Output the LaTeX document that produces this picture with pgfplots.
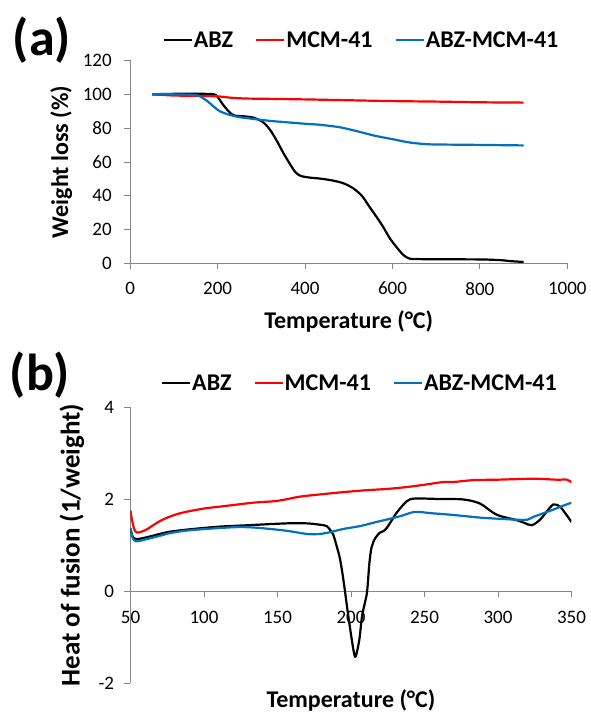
\documentclass[border=0pt]{standalone}
\usepackage{fontspec}
\setmainfont{Carlito}
\usepackage{pgfplots}
\pgfplotsset{compat=1.18}
\definecolor{exblue}{HTML}{0070C0}
\definecolor{exred}{HTML}{FF0000}
\definecolor{axgray}{HTML}{868686}

% excel-like look shared by both panels
\pgfplotsset{excel/.style={
  scale only axis,
  axis line style={axgray, line width=0.9pt, -},
  tick style={axgray, line width=0.9pt},
  major tick length=6pt,
  tick align=outside,
  tick label style={font=\fontsize{19}{19}\selectfont, black},
  /pgf/number format/assume math mode=true,
  /pgf/number format/1000 sep={},
  label style={font=\bfseries\fontsize{24}{24}\selectfont},
  legend style={draw=none, fill=none, font=\bfseries\fontsize{24}{24}\selectfont,
    legend columns=3, nodes={inner sep=1pt},
    /tikz/every even column/.append style={column sep=21pt}},
  legend image code/.code={\draw[##1] (0pt,0pt) -- (28pt,0pt);},
  legend cell align=left,
  every axis plot/.append style={line width=2.2pt, smooth, no marks},
}}

\begin{document}
\begin{tikzpicture}
\path[use as bounding box] (0,0) rectangle (591pt,713pt);

% ---- (a) TGA ----
\node[font=\bfseries\fontsize{52}{52}\selectfont] at (42pt,673pt) {(a)};
\begin{axis}[excel,
  at={(130.2pt,449.5pt)}, anchor=south west,
  width=437.1pt, height=203pt,
  xmin=0, xmax=1000, ymin=0, ymax=120,
  xtick={0,200,...,1000}, ytick={0,20,...,120},
  axis x line*=bottom, axis y line*=left,
  xticklabel style={yshift=-9pt}, yticklabel style={xshift=-9pt},
  xlabel={Temperature (°C)}, ylabel={Weight loss (\%)},
  xlabel style={at={(rel axis cs:0.5,-0.288)}, anchor=center},
  ylabel style={at={(rel axis cs:-0.158,0.5)}, anchor=center},
  legend style={at={(rel axis cs:0.528,1.1)}, anchor=center},
]
\addplot[black] coordinates {
 (50,100) (100,100.3) (150,100.3) (190,100.1) (200,98.5) (215,93) (235,87.8)
 (260,87) (281,86.3) (304,83.5) (320,79) (335,72.7) (350,65.5) (365,59)
 (378,54) (390,51.8) (410,50.8) (434,50.2) (460,49.2) (487,47.5) (510,44.5)
 (530,40) (548,33.3) (565,27) (579,21.5) (595,14.5) (609,9.8) (625,5)
 (640,2.8) (660,2.6) (700,2.5) (800,2.4) (846,2) (870,1.4) (900,0.9)};
\addlegendentry{ABZ}
\addplot[exred] coordinates {
 (50,100) (100,99.3) (150,99.1) (200,98.8) (230,98) (265,97.5) (300,97.4)
 (400,97) (500,96.5) (600,96) (700,95.7) (800,95.3) (900,95.1)};
\addlegendentry{MCM-41}
\addplot[exblue] coordinates {
 (50,100) (100,100) (150,99.5) (165,98) (175,96.3) (190,93) (205,90)
 (228,87.8) (250,86.5) (281,85.5) (320,84.3) (357,83.5) (400,82.6) (434,82)
 (480,80.5) (525,77.8) (560,75.5) (600,73.5) (640,71.5) (680,70.5)
 (720,70.3) (800,70.1) (900,69.8)};
\addlegendentry{ABZ-MCM-41}
\end{axis}

% ---- (b) DSC ----
\node[font=\bfseries\fontsize{52}{52}\selectfont] at (40pt,338pt) {(b)};
\begin{axis}[excel,
  at={(130.5pt,30pt)}, anchor=south west,
  width=441pt, height=276pt,
  xmin=50, xmax=350, ymin=-2, ymax=4,
  xtick={50,100,...,350}, ytick={-2,0,2,4},
  axis x line*=middle, axis y line*=left,
  hide obscured x ticks=false,
  xticklabel style={yshift=-11pt}, yticklabel style={xshift=-7pt},
  xlabel={Temperature (°C)}, ylabel={Heat of fusion (1/weight)},
  xlabel style={at={(rel axis cs:0.5,-0.062)}, anchor=center},
  ylabel style={at={(rel axis cs:-0.133,0.5)}, anchor=center,
    font=\bfseries\fontsize{27}{27}\selectfont},
  legend style={at={(rel axis cs:0.519,1.087)}, anchor=center},
]
\addplot[black] coordinates {
 (50,1.35) (51.5,1.18) (54,1.13) (60,1.16) (70,1.24) (77,1.29) (90,1.34)
 (111,1.40) (130,1.43) (156,1.47) (170,1.47) (179,1.44) (183.5,1.41)
 (186,1.32) (188,1.22) (190.3,0.97) (192.5,0.70) (194.8,0.25) (198.2,-0.55)
 (201.6,-1.27) (203.2,-1.42) (205.7,-1.05) (207.5,-0.55) (209.5,-0.25)
 (211,0.0) (212.5,0.6) (214,0.95) (216.5,1.15) (219.7,1.27) (222,1.30)
 (224.3,1.37) (228,1.55) (231,1.70) (237.9,1.95) (243.5,2.01) (260,2.0)
 (276.4,1.99) (287.8,1.90) (299,1.66) (312.7,1.54) (318,1.48) (323,1.43)
 (328.6,1.55) (333,1.72) (337.6,1.88) (342,1.84) (346,1.68) (350,1.50)};
\addlegendentry{ABZ}
\addplot[exred] coordinates {
 (50,1.75) (51,1.55) (52.5,1.35) (54.5,1.27) (60,1.32) (65,1.42) (70,1.52)
 (77,1.62) (85,1.70) (99.5,1.79) (115,1.85) (133.5,1.92) (150,1.96)
 (165,2.05) (179,2.10) (195,2.15) (210,2.19) (225,2.22) (238,2.26)
 (250,2.31) (263,2.37) (270,2.37) (283,2.41) (300,2.42) (324,2.44)
 (340,2.42) (347,2.42) (350,2.36)};
\addlegendentry{MCM-41}
\addplot[exblue] coordinates {
 (50,1.37) (51.5,1.15) (54,1.08) (60,1.12) (70,1.20) (77,1.26) (90,1.32)
 (111,1.37) (125,1.39) (138,1.37) (156,1.31) (170,1.24) (179,1.24)
 (186,1.28) (195,1.35) (206,1.41) (216,1.49) (226.5,1.57) (235,1.64)
 (243.5,1.72) (255,1.69) (267,1.66) (280,1.62) (290,1.59) (312.7,1.55)
 (320,1.55) (324,1.61) (330,1.68) (337.6,1.77) (344,1.85) (350,1.92)};
\addlegendentry{ABZ-MCM-41}
\end{axis}
\end{tikzpicture}
\end{document}
